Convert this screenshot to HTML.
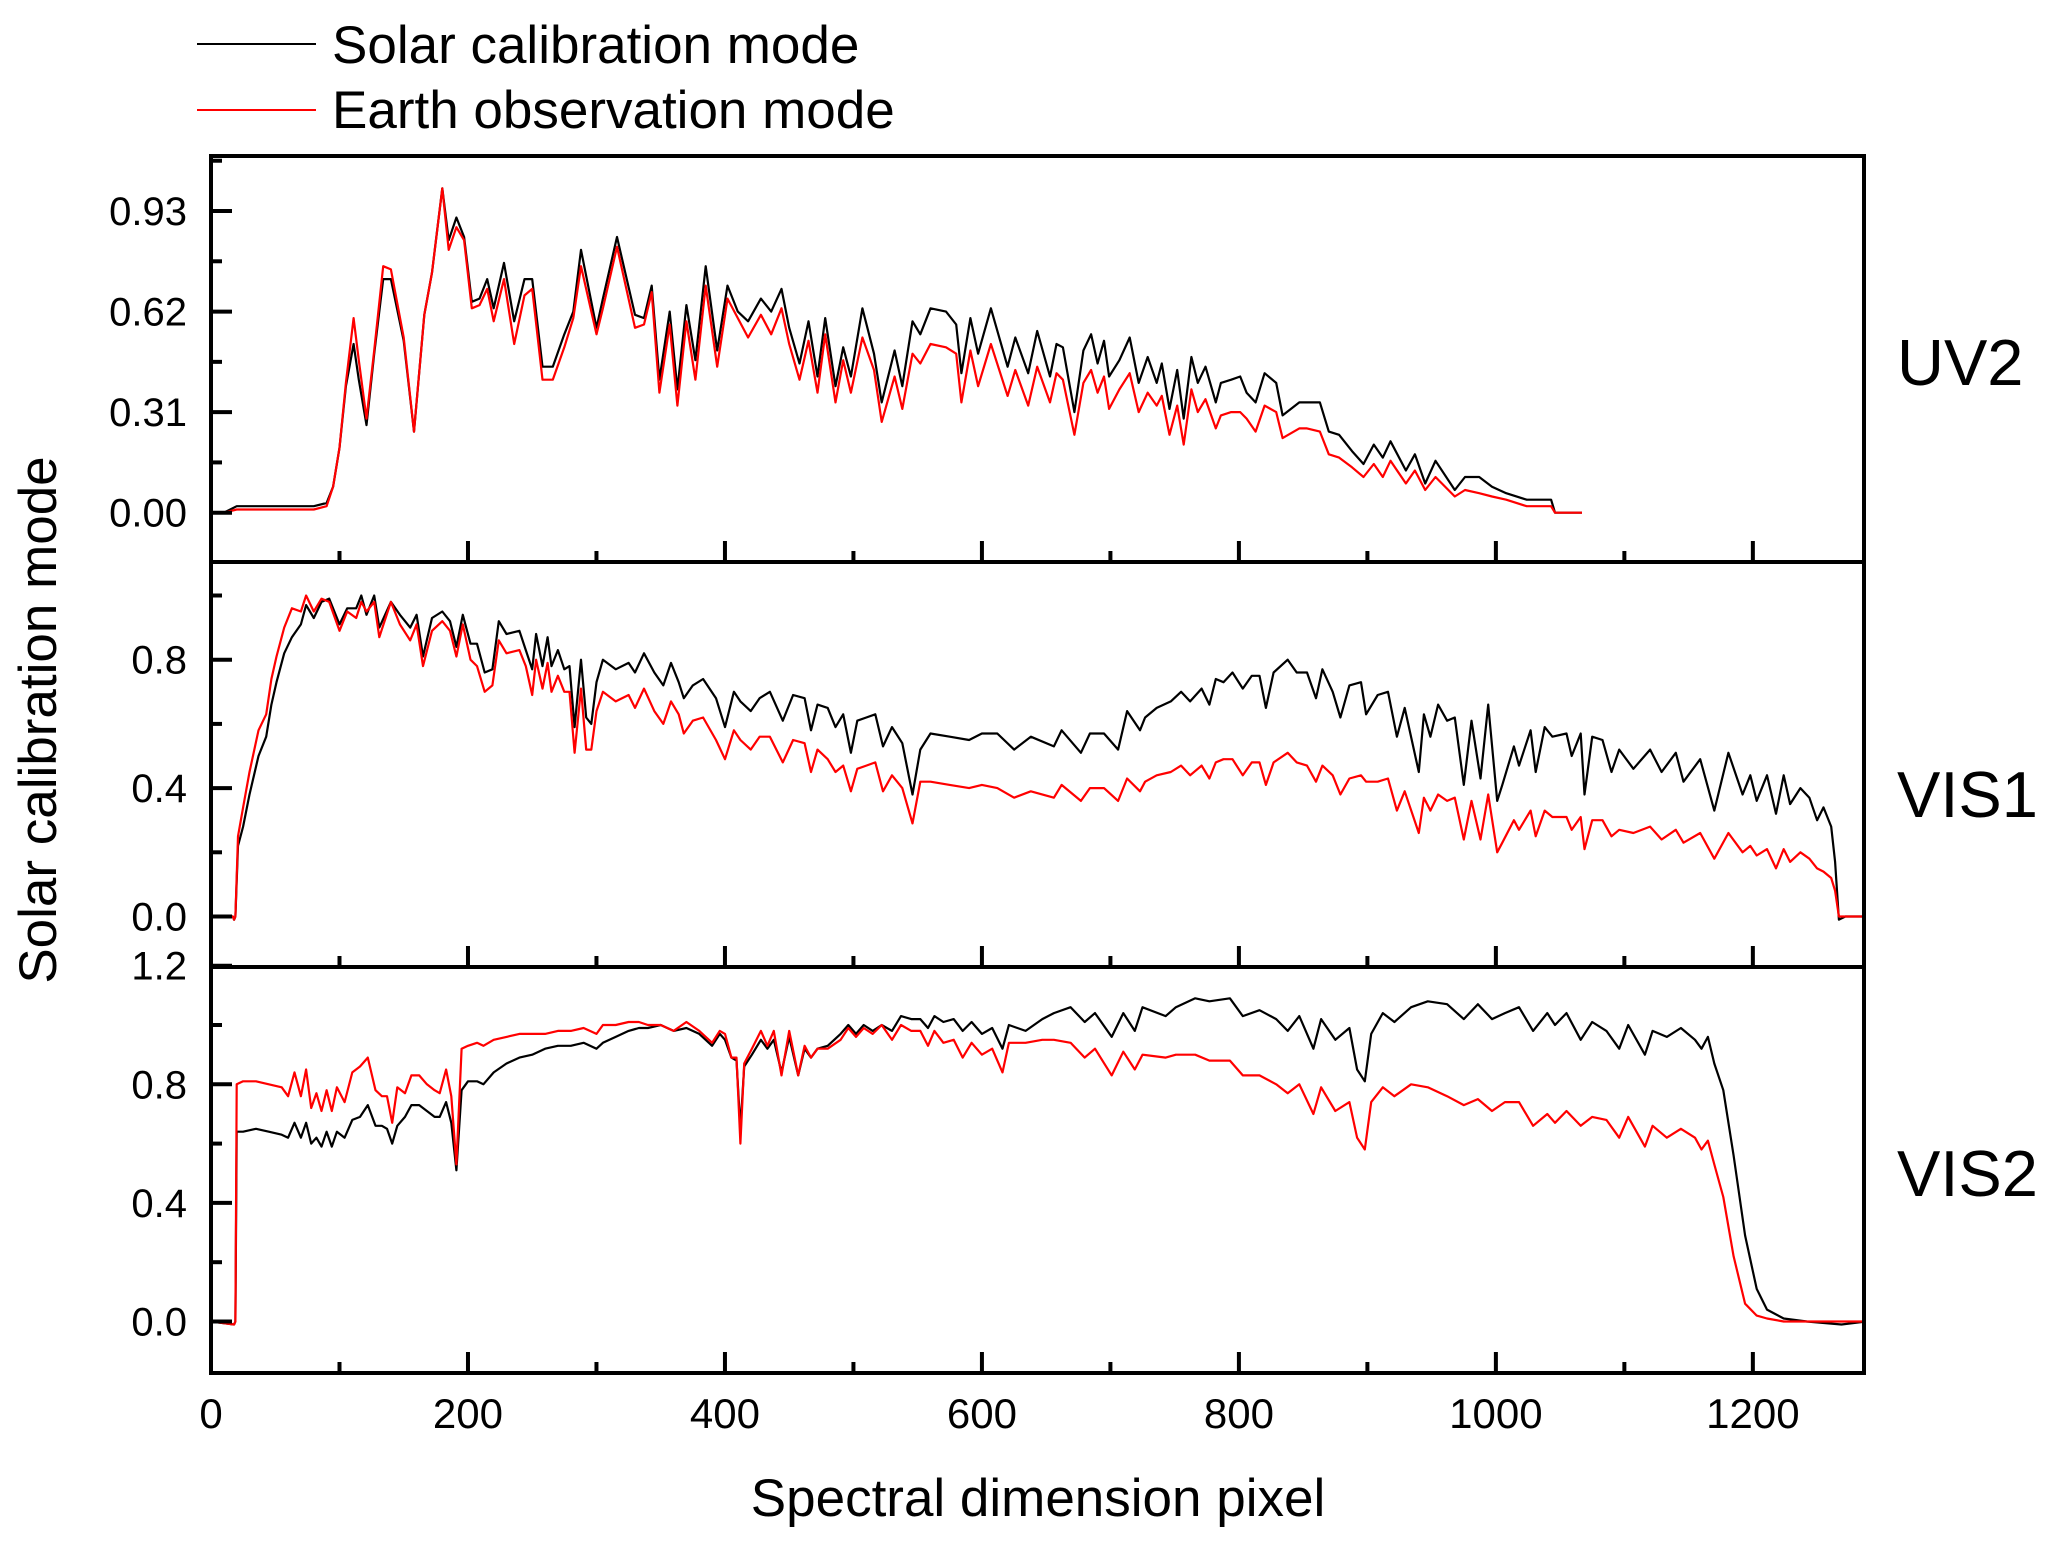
<!DOCTYPE html>
<html><head><meta charset="utf-8">
<style>
html,body{margin:0;padding:0;background:#fff;}
svg{display:block;font-family:"Liberation Sans",Arial,sans-serif;}
</style></head>
<body>
<svg id="chart" width="2067" height="1541" viewBox="0 0 2067 1541" xmlns="http://www.w3.org/2000/svg">
  <rect x="0" y="0" width="2067" height="1541" fill="#fff"/>
  <g>
    <line x1="197" y1="44" x2="316" y2="44" stroke="#000" stroke-width="2"/>
    <text x="332" y="63" font-size="53">Solar calibration mode</text>
    <line x1="197" y1="110" x2="316" y2="110" stroke="#f00" stroke-width="2"/>
    <text x="332" y="128" font-size="53">Earth observation mode</text>
  </g>
  <text transform="translate(56,720) rotate(-90)" text-anchor="middle" font-size="53">Solar calibration mode</text>
  <text x="1038" y="1516" text-anchor="middle" font-size="53">Spectral dimension pixel</text>
  <text x="1897" y="385" font-size="65">UV2</text>
  <text x="1897" y="817" font-size="65">VIS1</text>
  <text x="1897" y="1196" font-size="65">VIS2</text>
</svg>
<script>
// ---- data ----
const xTicks = [0,200,400,600,800,1000,1200];
const xTickLabels = ["0","200","400","600","800","1000","1200"];

const uv2X = [0,10,20,80,90,95,100,105,111,115,121,127,134,140,150,158,166,172,180,185,191,197,203,209,215,220,228,236,244,250,258,266,275,282,288,300,305,316,330,337,343,349,357,363,370,377,385,394,402,410,418,428,436,444,450,458,465,472,478,486,492,498,507,516,522,532,538,546,552,560,572,580,584,591,597,607,620,626,636,643,653,658,663,672,679,685,690,695,699,707,715,722,729,736,740,746,752,757,763,768,774,782,786,794,801,806,813,820,829,834,847,853,863,870,878,888,897,905,912,918,930,937,945,953,968,976,987,997,1008,1024,1043,1046,1067];
const uv2Solar = [0,0,0.02,0.02,0.03,0.08,0.20,0.39,0.52,0.41,0.27,0.49,0.72,0.72,0.53,0.25,0.61,0.74,1.00,0.84,0.91,0.85,0.65,0.66,0.72,0.63,0.77,0.59,0.72,0.72,0.45,0.45,0.55,0.62,0.81,0.57,0.66,0.85,0.61,0.60,0.70,0.41,0.62,0.38,0.64,0.47,0.76,0.50,0.70,0.62,0.59,0.66,0.62,0.69,0.57,0.46,0.59,0.42,0.60,0.39,0.51,0.42,0.63,0.49,0.34,0.50,0.39,0.59,0.55,0.63,0.62,0.58,0.43,0.60,0.49,0.63,0.45,0.54,0.43,0.56,0.42,0.52,0.51,0.31,0.50,0.55,0.46,0.53,0.42,0.47,0.54,0.40,0.48,0.40,0.46,0.32,0.44,0.29,0.48,0.40,0.45,0.34,0.40,0.41,0.42,0.37,0.34,0.43,0.40,0.30,0.34,0.34,0.34,0.25,0.24,0.19,0.15,0.21,0.17,0.22,0.13,0.18,0.09,0.16,0.07,0.11,0.11,0.08,0.06,0.04,0.04,0.00,0.00];
const uv2Earth = [0,0,0.01,0.01,0.02,0.08,0.20,0.40,0.60,0.47,0.29,0.50,0.76,0.75,0.54,0.25,0.61,0.74,1.00,0.81,0.88,0.84,0.63,0.64,0.69,0.59,0.72,0.52,0.67,0.69,0.41,0.41,0.51,0.60,0.76,0.55,0.63,0.82,0.57,0.58,0.68,0.37,0.58,0.33,0.59,0.41,0.70,0.45,0.66,0.60,0.54,0.61,0.55,0.63,0.52,0.41,0.53,0.37,0.55,0.34,0.47,0.37,0.54,0.44,0.28,0.42,0.32,0.49,0.46,0.52,0.51,0.49,0.34,0.50,0.39,0.52,0.36,0.44,0.33,0.45,0.34,0.43,0.41,0.24,0.40,0.44,0.37,0.42,0.32,0.38,0.43,0.31,0.37,0.33,0.36,0.24,0.33,0.21,0.38,0.31,0.35,0.26,0.30,0.31,0.31,0.29,0.25,0.33,0.31,0.23,0.26,0.26,0.25,0.18,0.17,0.14,0.11,0.15,0.11,0.16,0.09,0.13,0.07,0.11,0.05,0.07,0.06,0.05,0.04,0.02,0.02,0.00,0.00];

const vis1X = [0,17,18,19,21,25,30,37,43,47,51,57,63,70,74,80,86,92,100,106,113,117,121,127,131,140,147,155,160,165,172,180,186,191,196,202,207,213,219,224,230,240,245,250,253,258,262,265,270,275,279,283,288,292,296,300,305,315,325,330,337,345,352,358,364,368,375,383,393,400,407,412,420,427,435,445,453,462,467,472,480,486,492,498,503,510,517,523,530,538,546,552,560,575,590,600,612,625,638,656,662,677,684,695,706,713,723,727,736,747,755,762,771,777,782,788,795,803,810,816,821,827,838,845,853,860,865,873,879,886,895,899,908,916,923,929,940,944,949,955,962,968,975,981,988,994,1001,1005,1014,1018,1027,1031,1038,1044,1055,1059,1066,1069,1075,1083,1090,1096,1107,1120,1129,1140,1146,1159,1170,1181,1192,1198,1203,1211,1218,1224,1229,1237,1244,1250,1255,1261,1264,1267,1272,1288];
const vis1Solar = [0,0,-0.01,0,0.22,0.28,0.38,0.50,0.56,0.66,0.73,0.82,0.87,0.91,0.97,0.93,0.98,0.99,0.91,0.96,0.96,1.00,0.94,1.00,0.90,0.98,0.94,0.90,0.94,0.81,0.93,0.95,0.92,0.84,0.94,0.85,0.85,0.76,0.77,0.92,0.88,0.89,0.83,0.77,0.88,0.78,0.87,0.78,0.83,0.77,0.78,0.59,0.80,0.62,0.60,0.73,0.80,0.77,0.79,0.76,0.82,0.76,0.72,0.79,0.73,0.68,0.72,0.74,0.68,0.59,0.70,0.67,0.64,0.68,0.70,0.61,0.69,0.68,0.58,0.66,0.65,0.59,0.63,0.51,0.61,0.62,0.63,0.53,0.59,0.54,0.38,0.52,0.57,0.56,0.55,0.57,0.57,0.52,0.56,0.53,0.58,0.51,0.57,0.57,0.52,0.64,0.58,0.62,0.65,0.67,0.70,0.67,0.71,0.66,0.74,0.73,0.76,0.71,0.75,0.75,0.65,0.76,0.80,0.76,0.76,0.68,0.77,0.70,0.62,0.72,0.73,0.63,0.69,0.70,0.56,0.65,0.45,0.63,0.56,0.66,0.61,0.62,0.41,0.61,0.43,0.66,0.36,0.41,0.53,0.47,0.58,0.45,0.59,0.56,0.57,0.50,0.57,0.38,0.56,0.55,0.45,0.52,0.46,0.52,0.45,0.51,0.42,0.49,0.33,0.51,0.38,0.44,0.36,0.44,0.32,0.44,0.35,0.40,0.37,0.30,0.34,0.28,0.17,-0.01,0,0];
const vis1Earth = [0,0,-0.01,0,0.25,0.34,0.45,0.58,0.63,0.74,0.81,0.90,0.96,0.95,1.00,0.95,0.99,0.98,0.89,0.95,0.93,0.98,0.95,0.98,0.87,0.98,0.91,0.86,0.91,0.78,0.89,0.92,0.89,0.81,0.91,0.80,0.78,0.70,0.72,0.86,0.82,0.83,0.78,0.69,0.80,0.71,0.79,0.70,0.75,0.70,0.70,0.51,0.71,0.52,0.52,0.64,0.70,0.67,0.69,0.65,0.71,0.64,0.60,0.67,0.63,0.57,0.61,0.62,0.55,0.49,0.58,0.55,0.52,0.56,0.56,0.48,0.55,0.54,0.45,0.52,0.49,0.45,0.47,0.39,0.46,0.47,0.48,0.39,0.44,0.40,0.29,0.42,0.42,0.41,0.40,0.41,0.40,0.37,0.39,0.37,0.41,0.36,0.40,0.40,0.36,0.43,0.39,0.42,0.44,0.45,0.47,0.44,0.47,0.43,0.48,0.49,0.49,0.44,0.48,0.48,0.41,0.48,0.51,0.48,0.47,0.42,0.47,0.44,0.38,0.43,0.44,0.42,0.42,0.43,0.33,0.39,0.26,0.37,0.33,0.38,0.36,0.37,0.24,0.36,0.24,0.38,0.20,0.23,0.30,0.27,0.33,0.25,0.33,0.31,0.31,0.27,0.31,0.21,0.30,0.30,0.25,0.27,0.26,0.28,0.24,0.27,0.23,0.26,0.18,0.26,0.20,0.22,0.19,0.21,0.15,0.21,0.17,0.20,0.18,0.15,0.14,0.12,0.08,0,0,0];

const vis2X = [0,18,19,20,25,35,45,55,60,65,70,74,78,82,86,90,94,98,104,110,116,122,128,133,137,141,145,151,156,162,168,174,178,183,187,191,195,200,207,212,220,230,240,250,260,270,280,290,300,305,315,325,333,340,350,360,370,380,390,396,400,405,409,412,415,421,428,433,438,444,450,457,462,467,472,480,490,496,502,508,515,522,530,537,545,552,558,563,570,578,585,592,600,608,616,621,634,647,656,669,680,688,701,710,719,725,743,751,766,777,793,803,816,829,838,847,858,864,875,886,892,898,903,912,921,934,947,962,975,986,997,1007,1018,1029,1040,1046,1055,1066,1075,1086,1096,1103,1116,1122,1133,1144,1155,1160,1165,1170,1177,1185,1194,1203,1211,1224,1242,1269,1288];
const vis2Solar = [0,-0.01,0,0.64,0.64,0.65,0.64,0.63,0.62,0.67,0.62,0.67,0.60,0.62,0.59,0.64,0.59,0.64,0.62,0.68,0.69,0.73,0.66,0.66,0.65,0.60,0.66,0.69,0.73,0.73,0.71,0.69,0.69,0.74,0.67,0.51,0.78,0.81,0.81,0.80,0.84,0.87,0.89,0.90,0.92,0.93,0.93,0.94,0.92,0.94,0.96,0.98,0.99,0.99,1.00,0.98,0.99,0.97,0.93,0.97,0.95,0.89,0.88,0.65,0.86,0.90,0.95,0.92,0.95,0.84,0.96,0.83,0.92,0.89,0.92,0.93,0.97,1.00,0.97,1.00,0.98,1.00,0.98,1.03,1.02,1.02,0.99,1.03,1.01,1.02,0.98,1.01,0.97,0.99,0.92,1.00,0.98,1.02,1.04,1.06,1.01,1.04,0.96,1.04,0.98,1.06,1.03,1.06,1.09,1.08,1.09,1.03,1.05,1.02,0.98,1.03,0.92,1.02,0.95,0.99,0.85,0.81,0.97,1.04,1.01,1.06,1.08,1.07,1.02,1.07,1.02,1.04,1.06,0.98,1.04,1.00,1.04,0.95,1.01,0.98,0.92,1.00,0.90,0.98,0.96,0.99,0.95,0.92,0.96,0.87,0.78,0.56,0.29,0.11,0.04,0.01,0.00,-0.01,0];
const vis2Earth = [0,-0.01,0,0.80,0.81,0.81,0.80,0.79,0.76,0.84,0.76,0.85,0.72,0.77,0.71,0.78,0.71,0.79,0.74,0.84,0.86,0.89,0.78,0.76,0.76,0.67,0.79,0.77,0.83,0.83,0.80,0.78,0.77,0.85,0.76,0.53,0.92,0.93,0.94,0.93,0.95,0.96,0.97,0.97,0.97,0.98,0.98,0.99,0.97,1.00,1.00,1.01,1.01,1.00,1.00,0.98,1.01,0.98,0.94,0.98,0.97,0.89,0.89,0.60,0.87,0.92,0.98,0.93,0.98,0.83,0.98,0.83,0.93,0.89,0.92,0.92,0.95,0.99,0.96,0.99,0.97,1.00,0.95,1.00,0.98,0.98,0.93,0.98,0.94,0.95,0.89,0.94,0.90,0.92,0.84,0.94,0.94,0.95,0.95,0.94,0.89,0.92,0.83,0.91,0.85,0.90,0.89,0.90,0.90,0.88,0.88,0.83,0.83,0.80,0.77,0.80,0.70,0.79,0.71,0.74,0.62,0.58,0.74,0.79,0.76,0.80,0.79,0.76,0.73,0.75,0.71,0.74,0.74,0.66,0.70,0.67,0.71,0.66,0.69,0.68,0.62,0.69,0.59,0.66,0.62,0.65,0.62,0.58,0.61,0.53,0.42,0.22,0.06,0.02,0.01,0.00,0.00,0.00,0];

// ---- layout ----
const NS = "http://www.w3.org/2000/svg";
const svg = document.getElementById('chart');
const L = 211, R = 1864, XMAX = 1286.5;
function xs(v){ return L + v * (R - L) / XMAX; }

const panels = [
  {id:'uv2', top:156, bottom:562, zero:512.7, unit:324.4, xv:uv2X, s:uv2Solar, e:uv2Earth,
   tickVals:[0,0.155,0.31,0.465,0.62,0.775,0.93,1.085], labelVals:[0,0.31,0.62,0.93], labels:["0.00","0.31","0.62","0.93"]},
  {id:'vis1', top:562, bottom:967, zero:916.5, unit:321, xv:vis1X, s:vis1Solar, e:vis1Earth,
   tickVals:[0,0.2,0.4,0.6,0.8,1.0], labelVals:[0,0.4,0.8], labels:["0.0","0.4","0.8"]},
  {id:'vis2', top:967, bottom:1373, zero:1321.5, unit:296.5, xv:vis2X, s:vis2Solar, e:vis2Earth,
   tickVals:[0,0.2,0.4,0.6,0.8,1.0,1.2], labelVals:[0,0.4,0.8,1.2], labels:["0.0","0.4","0.8","1.2"]}
];

function mk(tag, attrs){
  const el = document.createElementNS(NS, tag);
  for (const k in attrs) el.setAttribute(k, attrs[k]);
  return el;
}

const defs = mk('defs', {});
svg.appendChild(defs);

panels.forEach(p => {
  const ys = v => p.zero - v * p.unit;
  const cp = mk('clipPath', {id:'clip-' + p.id});
  cp.appendChild(mk('rect', {x:L, y:p.top, width:R - L, height:p.bottom - p.top}));
  defs.appendChild(cp);

  const g = mk('g', {});
  
  
  svg.appendChild(g);

  const series = [[p.s, '#000', 'solar'], [p.e, '#f00', 'earth']];
  series.forEach(([vals, col, nm]) => {
    let d = '';
    for (let i = 0; i < p.xv.length; i++) {
      d += (i ? 'L' : 'M') + xs(p.xv[i]).toFixed(1) + ',' + ys(vals[i]).toFixed(1);
    }
    const path = mk('path', {d:d, fill:'none', stroke:col, 'stroke-width':2.2, 'stroke-linejoin':'round', 'clip-path':'url(#clip-' + p.id + ')'});
    
    
    g.appendChild(path);
  });

  p.tickVals.forEach(v => {
    const major = p.labelVals.some(lv => Math.abs(lv - v) < 1e-6);
    const y = ys(v);
    const t = mk('line', {x1:L, x2:L + (major ? 21 : 11), y1:y, y2:y, stroke:'#000', 'stroke-width':4});
    
    
    g.appendChild(t);
  });
  p.labelVals.forEach((v, i) => {
    const t = mk('text', {x:187, y:ys(v) + 14, 'text-anchor':'end', 'font-size':40});
    t.textContent = p.labels[i];
    
    
    g.appendChild(t);
  });
  for (let v = 0; v <= 1200; v += 100) {
    const major = v % 200 === 0;
    const x = xs(v);
    const t = mk('line', {x1:x, x2:x, y1:p.bottom, y2:p.bottom - (major ? 21 : 11), stroke:'#000', 'stroke-width':4});
    
    
    g.appendChild(t);
  }
});

const frame = mk('rect', {x:L, y:156, width:R - L, height:1373 - 156, fill:'none', stroke:'#000', 'stroke-width':4});


svg.appendChild(frame);
[562, 967].forEach(y => {
  const l = mk('line', {x1:L, x2:R, y1:y, y2:y, stroke:'#000', 'stroke-width':4});
  
  
  svg.appendChild(l);
});

xTicks.forEach((v, i) => {
  const t = mk('text', {x:xs(v), y:1428, 'text-anchor':'middle', 'font-size':42});
  t.textContent = xTickLabels[i];
  
  
  svg.appendChild(t);
});
</script>
</body></html>
